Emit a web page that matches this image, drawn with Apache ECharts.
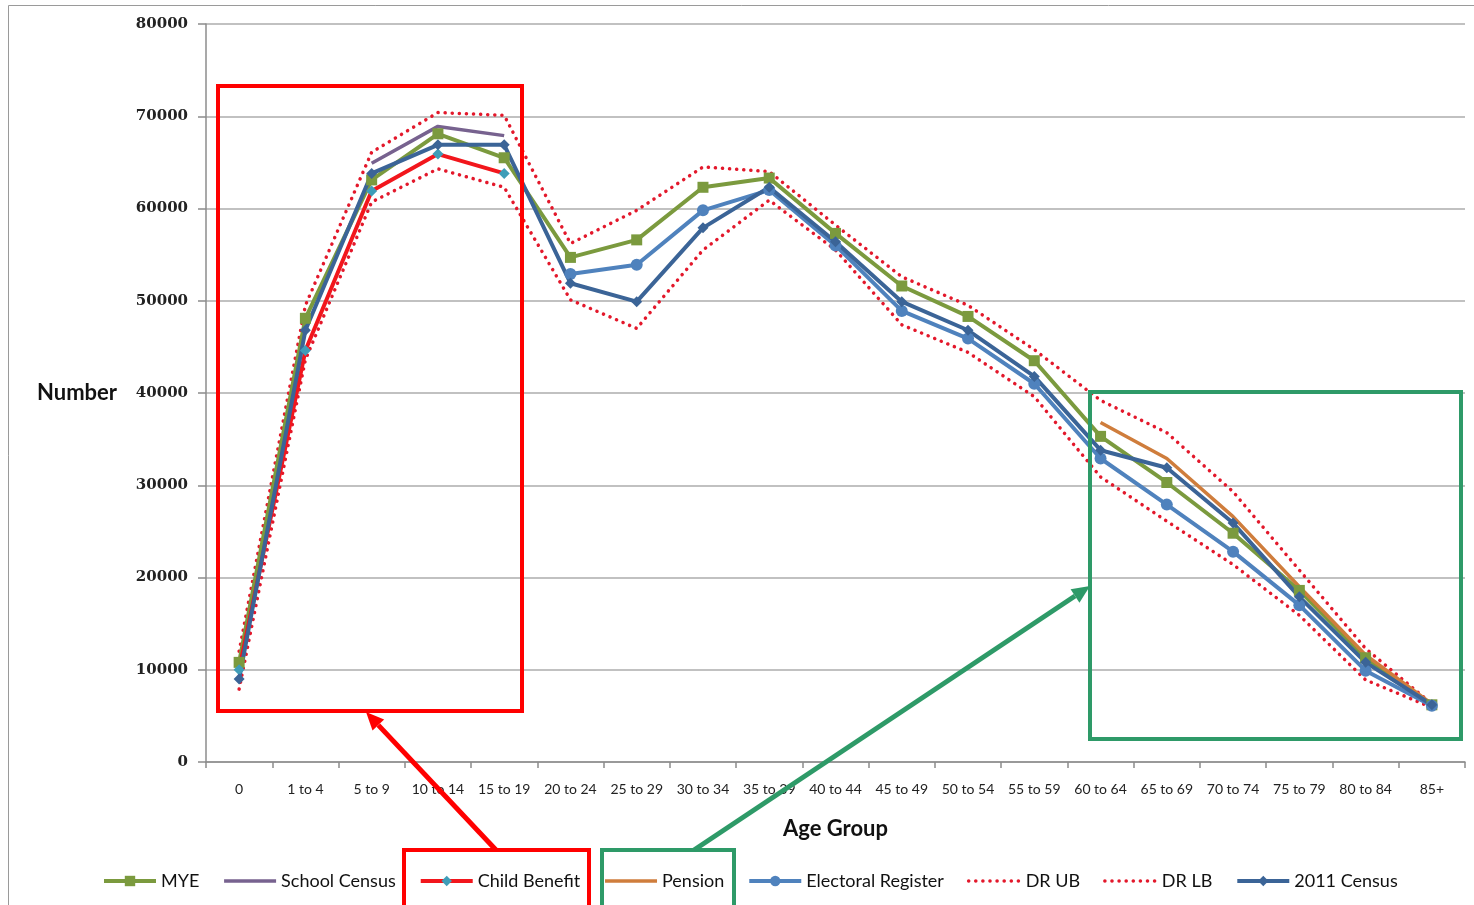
<!DOCTYPE html>
<html>
<head>
<meta charset="utf-8">
<script src="https://cdn.jsdelivr.net/npm/echarts@6/dist/echarts.min.js"></script>
<style>
  html, body { margin: 0; padding: 0; background: #fff; }
  #chart { width: 1474px; height: 905px; }
</style>
</head>
<body>
<div id="chart"></div>
<script>
// Population by age group, comparing administrative sources
const categories = ['0', '1 to 4', '5 to 9', '10 to 14', '15 to 19', '20 to 24', '25 to 29',
  '30 to 34', '35 to 39', '40 to 44', '45 to 49', '50 to 54', '55 to 59', '60 to 64',
  '65 to 69', '70 to 74', '75 to 79', '80 to 84', '85+'];
const yTicks = { min: 0, max: 80000, interval: 10000 };

const mye = [10800, 48100, 63100, 68100, 65500, 54700, 56600, 62300, 63300, 57300,
  51600, 48300, 43500, 35300, 30300, 24800, 18600, 11300, 6200];
const schoolCensus = [null, null, 64900, 68900, 67900, null, null, null, null, null,
  null, null, null, null, null, null, null, null, null];
const childBenefit = [10000, 44600, 61900, 65900, 63800, null, null, null, null, null,
  null, null, null, null, null, null, null, null, null];
const pension = [null, null, null, null, null, null, null, null, null, null,
  null, null, null, 36800, 32900, 26600, 19000, 11600, 6300];
const electoralRegister = [null, null, null, null, null, 52900, 53900, 59800, 62000, 56000,
  48900, 45900, 41000, 32900, 27900, 22800, 17000, 9900, 6100];
const drUB = [12000, 49500, 66100, 70400, 70100, 56200, 59800, 64500, 64000, 58200,
  52600, 49500, 44700, 39200, 35700, 29300, 20800, 12300, 6300];
const drLB = [7900, 43600, 60700, 64300, 62300, 50100, 47000, 55500, 60900, 55500,
  47400, 44400, 39600, 30900, 26100, 21400, 15900, 8900, 5900];
const census2011 = [9000, 46800, 63800, 66900, 66900, 51900, 49900, 57900, 62300, 56400,
  49900, 46800, 41800, 33800, 31900, 25900, 17900, 10800, 6200];

const SANS = 'Lato, "Noto Sans", sans-serif';
const dotted = { width: 3.5, type: [0.1, 7], cap: 'round', color: '#e3182b' };

function lineSeries(name, data, color, opts) {
  return Object.assign({
    name: name,
    type: 'line',
    data: data,
    connectNulls: false,
    symbol: 'none',
    symbolSize: 10,
    lineStyle: { width: 4, color: color },
    itemStyle: { color: color, borderWidth: 0 },
    emphasis: { disabled: true },
    animation: false,
    z: 3
  }, opts || {});
}

const series = [
  lineSeries('MYE', mye, '#7b9a3e', { symbol: 'rect', symbolSize: 11 }),
  lineSeries('School Census', schoolCensus, '#77628f', { lineStyle: { width: 3.5, color: '#77628f' } }),
  lineSeries('Child Benefit', childBenefit, '#f2161c', {
    symbol: 'diamond', symbolSize: 11,
    itemStyle: { color: '#3f9db8', borderWidth: 0 }
  }),
  lineSeries('Pension', pension, '#cf7d3c', { lineStyle: { width: 3.5, color: '#cf7d3c' } }),
  lineSeries('Electoral Register', electoralRegister, '#4f82bd', { symbol: 'circle', symbolSize: 12 }),
  lineSeries('DR UB', drUB, '#e3182b', { lineStyle: dotted, z: 2 }),
  lineSeries('DR LB', drLB, '#e3182b', { lineStyle: dotted, z: 2 }),
  lineSeries('2011 Census', census2011, '#3b6497', { symbol: 'diamond', symbolSize: 11 })
];

// Legend entries: series drawn without markers show only their line
const legendData = series.map(s => {
  const item = { name: s.name, lineStyle: Object.assign({}, s.lineStyle) };
  if (s.symbol === 'none') item.itemStyle = { opacity: 0 };
  return item;
});

const chart = echarts.init(document.getElementById('chart'), null, { renderer: 'canvas' });

chart.setOption({
  backgroundColor: '#ffffff',
  animation: false,
  grid: { left: 206, right: 9, top: 24, bottom: 143, containLabel: false },
  legend: {
    data: legendData,
    left: 97,
    top: 867,
    itemWidth: 52,
    itemHeight: 13,
    itemGap: 23,
    textStyle: { fontFamily: SANS, fontSize: 18, color: '#111' },
    selectedMode: false
  },
  xAxis: {
    type: 'category',
    data: categories,
    boundaryGap: true,
    name: 'Age Group',
    nameLocation: 'middle',
    nameGap: 56,
    nameTextStyle: { fontFamily: SANS, fontSize: 22, fontWeight: 'bold', color: '#111' },
    axisLine: { lineStyle: { color: '#8c8c8c', width: 1.5 } },
    axisTick: { show: true, length: 6, lineStyle: { color: '#8c8c8c', width: 1.5 } },
    axisLabel: { fontFamily: SANS, fontSize: 14, color: '#222', margin: 20, interval: 0 },
    splitLine: { show: false }
  },
  yAxis: {
    type: 'value',
    min: yTicks.min,
    max: yTicks.max,
    interval: yTicks.interval,
    name: 'Number',
    nameLocation: 'middle',
    nameRotate: 0,
    nameGap: 89,
    nameTextStyle: { fontFamily: SANS, fontSize: 22, fontWeight: 'bold', color: '#111', align: 'right' },
    axisLine: { show: true, lineStyle: { color: '#8c8c8c', width: 1.5 } },
    axisTick: { show: true, length: 8, lineStyle: { color: '#8c8c8c', width: 1.5 } },
    axisLabel: {
      fontFamily: '"DejaVu Serif", serif', fontSize: 15, fontWeight: 'bold', color: '#222', margin: 18,
      formatter: v => String(v)
    },
    splitLine: { lineStyle: { color: '#adadad', width: 1.5 } }
  },
  series: series
});

// Annotation frames and arrows drawn on top of the plot
function arrow(id, tail, tip, color) {
  const dx = tip[0] - tail[0], dy = tip[1] - tail[1];
  const len = Math.sqrt(dx * dx + dy * dy);
  const ux = dx / len, uy = dy / len;
  const headLen = 18, headHalf = 8;
  const bx = tip[0] - ux * headLen, by = tip[1] - uy * headLen;
  const px = -uy, py = ux;
  return [
    { type: 'line', id: id + '-shaft', z: 100,
      shape: { x1: tail[0], y1: tail[1], x2: bx, y2: by },
      style: { stroke: color, lineWidth: 5 } },
    { type: 'polygon', id: id + '-head', z: 100,
      shape: { points: [tip, [bx + px * headHalf, by + py * headHalf], [bx - px * headHalf, by - py * headHalf]] },
      style: { fill: color } }
  ];
}

function frame(id, x, y, w, h, color) {
  return { type: 'rect', id: id, z: 100,
    shape: { x: x, y: y, width: w, height: h },
    style: { fill: null, stroke: color, lineWidth: 4 } };
}

const RED = '#ff0000';
const GREEN = '#2e9a68';

chart.setOption({
  graphic: [
    { type: 'rect', id: 'border', z: 0, silent: true,
      shape: { x: 8.5, y: 5.5, width: 1480, height: 920 },
      style: { fill: null, stroke: '#9a9a9a', lineWidth: 1 } },
    frame('box-young', 218, 86, 304, 625, RED),
    frame('box-old', 1090, 392, 371, 347, GREEN),
    frame('box-cb', 404, 850, 185, 60, RED),
    frame('box-pen', 602, 850, 132, 60, GREEN)
  ].concat(arrow('arrow-red', [496, 850], [366, 712], RED))
   .concat(arrow('arrow-green', [694, 850], [1090, 586], GREEN))
});
</script>
</body>
</html>
